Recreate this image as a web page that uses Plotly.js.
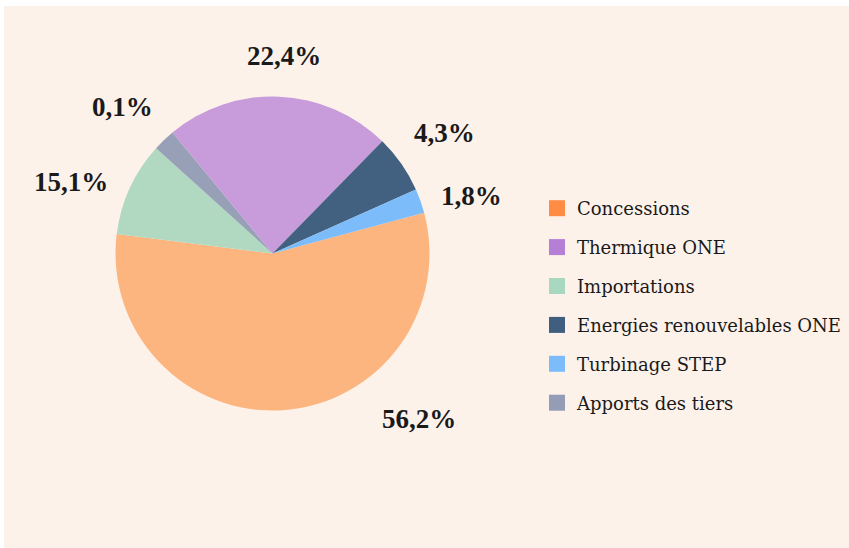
<!DOCTYPE html>
<html>
<head>
<meta charset="utf-8">
<script src="https://cdn.plot.ly/plotly-3.0.1.min.js"></script>
<style>html,body{margin:0;padding:0;background:#fff;}#chart{width:849px;height:548px;}</style>
</head>
<body>
<div id="chart"></div>
<script>
// Slices in clockwise drawing order (sizes)
const sliceLabels = ["Concessions", "Importations", "Apports des tiers", "Thermique ONE", "Energies renouvelables ONE", "Turbinage STEP"];
const sliceValues = [56.1, 9.7, 2.3, 23.3, 6.0, 2.5];
const sliceText = ["56,2%", "15,1%", "0,1%", "22,4%", "4,3%", "1,8%"];
const sliceColors = ["#fdb57f", "#b1d9c2", "#97a0b6", "#c89bdb", "#426180", "#7dbcfb"];

// Legend order as shown in the reference
const legendLabels = ["Concessions", "Thermique ONE", "Importations", "Energies renouvelables ONE", "Turbinage STEP", "Apports des tiers"];
const legendColors = ["#fe8c45", "#b57fd6", "#a8d8bf", "#3f5e80", "#7dbcfb", "#959cb6"];

const W = 849, H = 548;
const cx = 272.5, cy = 253.5, R = 157;

const traces = [{
  type: "pie",
  labels: sliceLabels,
  values: sliceValues,
  sort: false,
  direction: "clockwise",
  rotation: 75,
  textinfo: "none",
  hoverinfo: "label+percent",
  showlegend: false,
  marker: {colors: sliceColors, line: {width: 0}},
  domain: {x: [(cx - R) / W, (cx + R) / W], y: [(H - cy - R) / H, (H - cy + R) / H]}
}];

legendLabels.forEach((name, i) => {
  traces.push({
    type: "scatter", mode: "markers", x: [null], y: [null], name: name,
    legendgroup: "g" + i,
    marker: {symbol: "square", size: 16, color: legendColors[i], line: {width: 0}},
    hoverinfo: "skip"
  });
});

// label positions (pixels) for each slice's percentage text
const labelPos = {
  "Concessions": [418.5, 419],
  "Importations": [70.5, 182],
  "Apports des tiers": [122, 107],
  "Thermique ONE": [283.5, 56],
  "Energies renouvelables ONE": [444, 133],
  "Turbinage STEP": [472, 196]
};
const annotations = sliceLabels.map((lab, i) => ({
  xref: "paper", yref: "paper",
  x: labelPos[lab][0] / W, y: 1 - labelPos[lab][1] / H,
  xanchor: "center", yanchor: "middle",
  text: "<b>" + sliceText[i] + "</b>",
  showarrow: false,
  font: {family: "Liberation Serif, serif", size: 27, color: "#1a1a1a"}
}));

const layout = {
  width: W, height: H,
  margin: {l: 0, r: 0, t: 0, b: 0},
  paper_bgcolor: "#ffffff",
  plot_bgcolor: "rgba(0,0,0,0)",
  xaxis: {visible: false}, yaxis: {visible: false},
  shapes: [{
    type: "rect", xref: "paper", yref: "paper", layer: "below",
    x0: 4 / W, x1: 1, y0: 0, y1: (H - 6) / H,
    fillcolor: "#fdf2ea", line: {width: 0}
  }],
  legend: {
    x: 537 / W, y: 1 - 190 / H, xanchor: "left", yanchor: "top",
    bgcolor: "rgba(0,0,0,0)",
    traceorder: "grouped", tracegroupgap: 12.5,
    font: {family: "DejaVu Serif, serif", size: 18, color: "#1a1a1a"}
  },
  annotations: annotations
};

Plotly.newPlot("chart", traces, layout, {displayModeBar: false, staticPlot: true});
</script>
</body>
</html>
